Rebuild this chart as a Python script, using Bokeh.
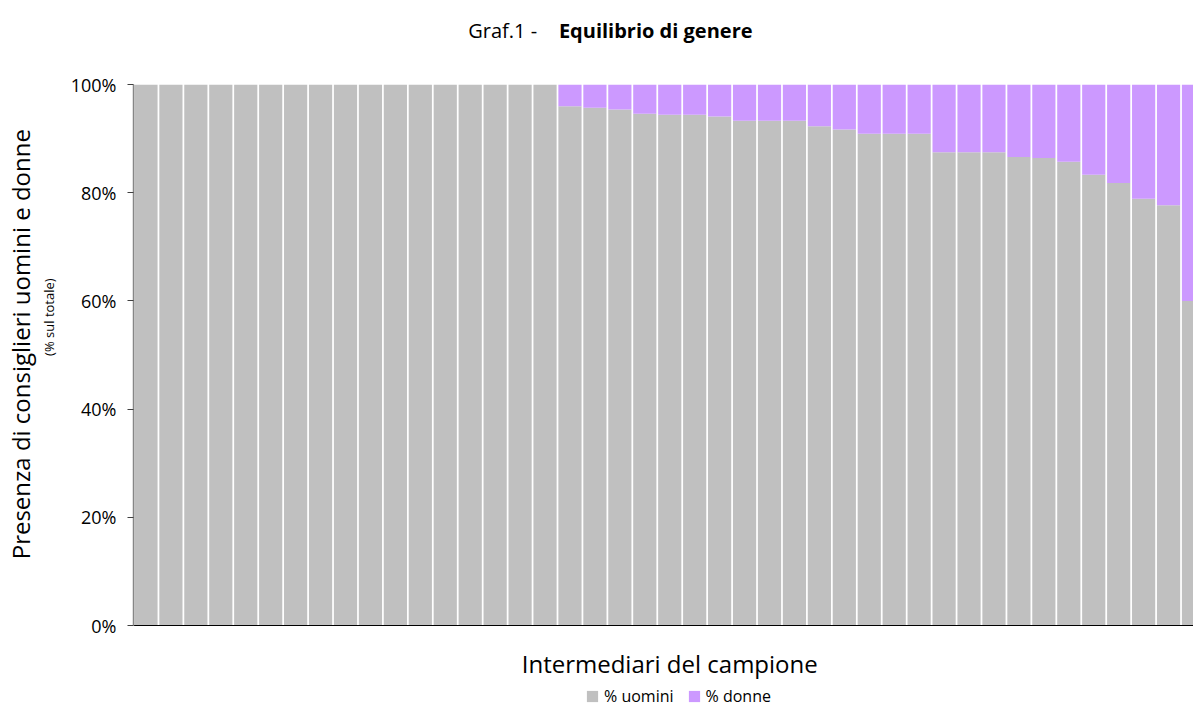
from bokeh.plotting import figure
from bokeh.models import (Range1d, Legend, LegendItem, FixedTicker, LinearAxis,
                          PrintfTickFormatter, ColumnDataSource)
from bokeh.embed import file_html
from bokeh.resources import INLINE

# ---- data ----
intermediari = list(range(1, 44))
uomini = [100, 100, 100, 100, 100, 100, 100, 100, 100, 100, 100, 100, 100, 100, 100, 100, 100,
          96.0, 95.7, 95.4, 94.6, 94.4, 94.4, 94.1, 93.3, 93.3, 93.3, 92.3, 91.7, 90.9,
          90.9, 90.9, 87.5, 87.5, 87.5, 86.6, 86.4, 85.7, 83.3, 81.8, 78.9, 77.7, 60.0]
donne = [0, 0, 0, 0, 0, 0, 0, 0, 0, 0, 0, 0, 0, 0, 0, 0, 0,
         4.0, 4.3, 4.6, 5.4, 5.6, 5.6, 5.9, 6.7, 6.7, 6.7, 7.7, 8.3, 9.1,
         9.1, 9.1, 12.5, 12.5, 12.5, 13.4, 13.6, 14.3, 16.7, 18.2, 21.1, 22.3, 40.0]
y_ticks = [0, 20, 40, 60, 80, 100]
series_names = ["% uomini", "% donne"]
colors = ["#C0C0C0", "#CC99FF"]
title_prefix = "Graf.1 -"
title_main = "Equilibrio di genere"
y_label = "Presenza di consiglieri uomini e donne"
y_sublabel = "(% sul totale)"
x_label = "Intermediari del campione"

FONT = "Open Sans"
NB = "\u00a0"

# positions (data units) where the axis titles are anchored
X_LABEL_AT = 22.0
Y_LABEL_AT = 52.0
Y_SUB_AT = 57.0
TITLE_PREFIX_AT = 15.3

source = ColumnDataSource(data=dict(x=intermediari, uomini=uomini, donne=donne))

# frame extends to the bottom of the canvas so that the legend can live inside it;
# the value 0 sits at the reference's baseline.
p = figure(frame_width=1060, frame_height=624, output_backend="svg", toolbar_location=None,
           x_range=Range1d(0.5, 43.0), y_range=Range1d(-15.34, 100),
           x_axis_location=None,
           min_border_left=133, min_border_right=0, min_border_top=84,
           min_border_bottom=0)
p.outline_line_color = None
p.grid.visible = False
p.background_fill_color = "white"

rs = p.vbar_stack(["uomini", "donne"], x="x", width=0.93, color=colors,
                  line_color=None, source=source)

# ---- main y axis (ticks) ----
ya = p.yaxis[0]
ya.bounds = (0, 100)
ya.ticker = FixedTicker(ticks=y_ticks)
ya.formatter = PrintfTickFormatter(format="%d%%")
ya.major_tick_out = 6
ya.major_tick_in = 0
ya.minor_tick_line_color = None
ya.minor_tick_out = 0
ya.axis_line_color = "#868686"
ya.axis_line_width = 1.5
ya.major_tick_line_color = "#404040"
ya.major_label_text_font = FONT
ya.major_label_text_font_size = "18px"
ya.major_label_text_color = "black"
ya.major_label_standoff = 11

# ---- y sub label and main y label, as rotated single-tick labels ----
ya_sub = LinearAxis(ticker=FixedTicker(ticks=[Y_SUB_AT]),
                    major_label_overrides={Y_SUB_AT: y_sublabel},
                    major_label_orientation="vertical",
                    axis_line_color=None, major_tick_line_color=None,
                    minor_tick_line_color=None, major_tick_out=0, minor_tick_out=0,
                    major_label_standoff=9, major_label_text_font=FONT,
                    major_label_text_font_size="13px", major_label_text_color="black")
p.add_layout(ya_sub, "left")
ya_main = LinearAxis(ticker=FixedTicker(ticks=[Y_LABEL_AT]),
                     major_label_overrides={Y_LABEL_AT: y_label},
                     major_label_orientation="vertical",
                     axis_line_color=None, major_tick_line_color=None,
                     minor_tick_line_color=None, major_tick_out=0, minor_tick_out=0,
                     major_label_standoff=0, major_label_text_font=FONT,
                     major_label_text_font_size="24px", major_label_text_color="black")
p.add_layout(ya_main, "left")

# ---- x axis: line at 0 plus its title ----
xa = LinearAxis(fixed_location=0, ticker=FixedTicker(ticks=[X_LABEL_AT]),
                major_label_overrides={X_LABEL_AT: x_label},
                axis_line_color="black", major_tick_line_color=None,
                minor_tick_line_color=None, major_tick_out=0, minor_tick_out=0,
                major_label_standoff=21, major_label_text_font=FONT,
                major_label_text_font_size="24px", major_label_text_color="black")
p.add_layout(xa, "below")

# ---- title built from an invisible top axis ----
ta = LinearAxis(ticker=FixedTicker(ticks=[TITLE_PREFIX_AT]), axis_line_color=None,
                major_tick_line_color=None, minor_tick_line_color=None,
                major_tick_out=0, minor_tick_out=0, major_label_standoff=41,
                major_label_overrides={TITLE_PREFIX_AT: title_prefix},
                major_label_text_font=FONT, major_label_text_font_size="20px",
                major_label_text_color="black",
                axis_label=title_main + NB * 3, axis_label_text_font=FONT,
                axis_label_text_font_size="20px", axis_label_text_font_style="bold",
                axis_label_text_color="black", axis_label_standoff=-30)
p.add_layout(ta, "above")

# ---- legend (inside the frame, under the x axis title) ----
legend = Legend(items=[LegendItem(label=series_names[0], renderers=[rs[0]]),
                       LegendItem(label=series_names[1], renderers=[rs[1]])],
                location=(452, 1), orientation="horizontal",
                glyph_width=14, glyph_height=14, label_height=14,
                label_text_font=FONT, label_text_font_size="16px",
                label_text_color="black", label_text_baseline="middle",
                label_standoff=5, spacing=13, padding=0, margin=0,
                border_line_color=None, background_fill_alpha=0)
p.add_layout(legend)

open("out.html", "w").write(file_html(p, INLINE))
